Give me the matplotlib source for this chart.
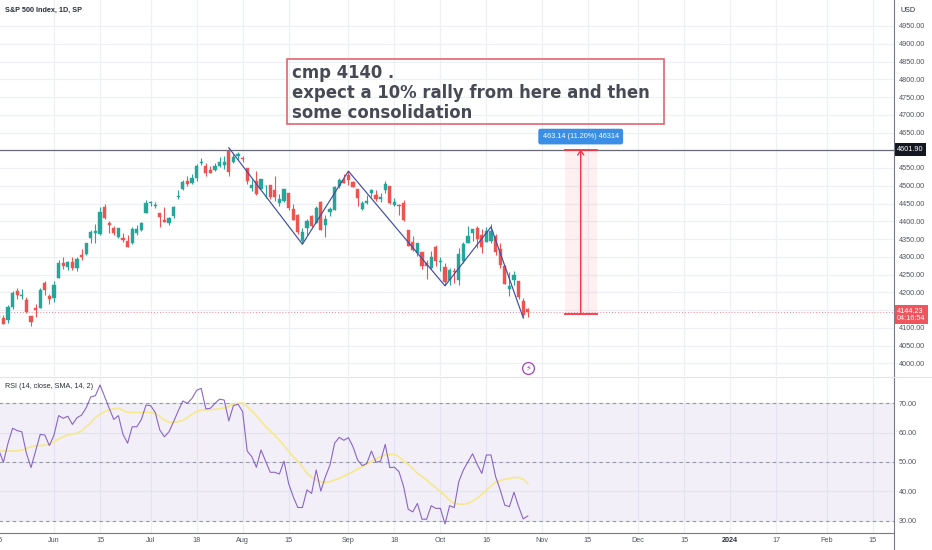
import matplotlib
matplotlib.use('Agg')
import matplotlib.pyplot as plt
import numpy as np
import pandas as pd
from matplotlib.patches import Rectangle, FancyArrowPatch
from matplotlib.lines import Line2D

# ---------------- data ----------------
first_bar = '2023-05-15'
last_bar = '2023-10-27'
holidays = ['2023-05-29', '2023-06-19', '2023-07-04', '2023-09-04', '2023-11-23',
            '2023-12-25', '2024-01-01', '2024-01-15', '2024-02-19']

opens = [
    4126.65, 4127.95, 4122.85, 4157.68, 4204.15, 4190.78, 4176.80, 4132.96, 4155.71, 4156.16, 4226.71, 4190.74,
    4183.03, 4241.01, 4282.99, 4271.34, 4285.47, 4268.69, 4304.88, 4308.32, 4352.61, 4366.29, 4365.33, 4440.95,
    4396.11, 4380.01, 4355.40, 4354.17, 4344.84, 4337.36, 4367.48, 4374.94, 4422.44,
    4450.48, 4442.04, 4422.62, 4404.54, 4394.23, 4415.55, 4467.69, 4491.50, 4514.61, 4508.86, 4521.78, 4563.87,
    4554.38, 4543.39, 4543.39, 4555.19, 4558.96, 4598.26, 4565.75, 4584.82,
    4578.83, 4550.93, 4494.27, 4513.96, 4491.58, 4498.03, 4501.57, 4487.16, 4450.69, 4458.13, 4478.87, 4433.79,
    4416.32, 4344.88, 4380.28, 4415.33, 4396.44, 4455.16, 4389.38, 4426.03, 4432.75, 4500.34, 4517.01,
    4530.60, 4510.06, 4490.35, 4434.55, 4451.30, 4480.98, 4473.27, 4462.65, 4487.78, 4497.98, 4445.13, 4445.41,
    4452.81, 4374.36, 4341.74, 4310.62, 4312.88, 4282.63, 4269.65, 4328.18,
    4284.52, 4269.75, 4233.83, 4259.31, 4234.79, 4289.02, 4339.75, 4366.59, 4380.94, 4360.49, 4342.37, 4345.23,
    4357.35, 4321.36, 4273.85, 4210.40, 4235.79, 4232.42, 4175.99, 4152.93]
highs = [
    4141.25, 4135.54, 4164.67, 4202.20, 4212.91, 4209.22, 4185.68, 4132.96, 4165.74, 4212.87, 4231.10, 4195.44,
    4232.43, 4290.67, 4299.28, 4288.33, 4299.19, 4298.01, 4322.62, 4340.13, 4375.37, 4391.82, 4439.20, 4448.47,
    4400.15, 4386.22, 4382.25, 4366.55, 4362.06, 4384.42, 4390.35, 4398.39, 4458.48,
    4456.46, 4454.06, 4422.62, 4440.39, 4412.60, 4443.64, 4488.34, 4517.38, 4527.76, 4532.85, 4562.30, 4578.43,
    4564.74, 4555.00, 4563.41, 4580.62, 4582.47, 4607.07, 4590.16, 4594.22,
    4584.62, 4550.93, 4519.49, 4540.34, 4519.84, 4503.31, 4502.44, 4527.37, 4476.23, 4490.33, 4478.87, 4449.95,
    4421.17, 4381.82, 4407.55, 4418.59, 4443.18, 4458.30, 4418.46, 4439.56, 4500.14, 4521.65, 4532.26,
    4541.25, 4514.29, 4490.35, 4457.81, 4473.53, 4490.77, 4487.11, 4479.39, 4511.99, 4497.98, 4466.36, 4449.85,
    4461.03, 4375.70, 4357.40, 4338.51, 4313.01, 4292.07, 4317.27, 4333.15,
    4300.58, 4281.15, 4268.50, 4267.13, 4324.10, 4341.73, 4385.46, 4378.64, 4385.85, 4377.10, 4383.33, 4393.57,
    4364.20, 4339.54, 4276.56, 4255.84, 4259.38, 4232.42, 4183.60, 4156.70]
lows = [
    4110.27, 4109.86, 4113.62, 4153.50, 4180.20, 4179.68, 4142.54, 4103.98, 4129.73, 4156.16, 4192.18, 4166.15,
    4171.64, 4241.01, 4266.82, 4263.09, 4263.96, 4261.07, 4291.70, 4304.37, 4337.66, 4337.85, 4362.60, 4407.44,
    4367.19, 4360.14, 4351.82, 4341.34, 4328.08, 4335.00, 4360.22, 4371.97, 4422.44,
    4442.29, 4436.61, 4385.05, 4397.40, 4389.92, 4408.46, 4463.23, 4489.36, 4499.56, 4504.90, 4514.59, 4557.48,
    4527.56, 4535.79, 4541.29, 4552.42, 4547.58, 4528.56, 4564.01, 4573.14,
    4567.53, 4505.75, 4485.54, 4474.55, 4491.15, 4464.39, 4461.33, 4457.92, 4443.98, 4453.44, 4432.19, 4403.55,
    4364.83, 4335.31, 4360.30, 4382.77, 4396.44, 4375.55, 4356.29, 4414.98, 4431.68, 4493.59, 4507.39,
    4501.35, 4496.01, 4442.38, 4430.46, 4448.38, 4467.89, 4456.83, 4453.52, 4478.69, 4447.21, 4442.11, 4416.61,
    4401.38, 4329.17, 4316.49, 4302.70, 4265.98, 4238.63, 4264.38, 4274.86,
    4260.21, 4220.48, 4220.48, 4225.91, 4219.55, 4283.79, 4339.64, 4345.34, 4325.43, 4311.97, 4342.37, 4337.54,
    4303.84, 4269.69, 4223.03, 4189.22, 4219.43, 4181.42, 4127.90, 4130.00]
closes = [
    4136.28, 4109.90, 4158.77, 4198.05, 4191.98, 4192.63, 4145.58, 4115.24, 4151.28, 4205.45, 4205.52, 4179.83,
    4221.02, 4282.37, 4273.79, 4283.85, 4267.52, 4293.93, 4298.86, 4338.93, 4369.01, 4372.59, 4425.84, 4409.59,
    4388.71, 4365.69, 4381.89, 4348.33, 4328.82, 4378.41, 4376.86, 4396.44, 4450.38,
    4455.59, 4446.82, 4411.59, 4398.95, 4409.53, 4439.26, 4472.16, 4510.04, 4505.42, 4522.79, 4554.98, 4565.72,
    4534.87, 4536.34, 4554.64, 4567.46, 4566.75, 4537.41, 4582.23, 4588.96,
    4576.73, 4513.39, 4501.89, 4478.03, 4518.44, 4499.38, 4467.71, 4468.83, 4464.05, 4489.72, 4437.86, 4404.33,
    4370.36, 4369.71, 4399.77, 4387.55, 4436.01, 4376.31, 4405.71, 4433.31, 4497.63, 4514.87, 4507.66,
    4515.77, 4496.83, 4465.48, 4451.14, 4457.49, 4487.46, 4461.90, 4467.44, 4505.10, 4450.32, 4453.53, 4443.95,
    4402.20, 4330.00, 4320.06, 4337.44, 4273.53, 4274.51, 4299.70, 4288.05,
    4288.39, 4229.45, 4263.75, 4258.19, 4308.50, 4335.66, 4358.24, 4376.95, 4349.61, 4327.78, 4373.63, 4373.20,
    4314.60, 4278.00, 4224.16, 4217.04, 4247.68, 4186.77, 4137.23, 4144.23]

rsi = [
    54.1, 49.9, 56.4, 61.5, 60.7, 60.3, 53.0, 48.1, 53.75, 59.4, 59.2, 55.6,
    59.2, 65.8, 64.9, 65.6, 62.8, 65.1, 66.0, 68.5, 72.2, 72.6, 76.25, 72.3, 68.3, 64.5, 65.8, 59.4, 56.4,
    62.0, 62.0, 64.5, 69.4,
    69.2, 66.9, 60.9, 58.6, 60.3, 63.75, 67.4, 70.8, 70.0, 71.7, 74.4, 75.1, 68.1, 68.3, 70.0, 71.4, 71.1,
    64.0, 69.2, 69.7,
    67.2, 53.75, 51.8, 48.2, 54.1, 50.3, 46.5, 46.5, 45.9,
    50.3, 42.7, 38.2, 34.5, 34.5, 40.5, 39.3, 47.3, 40.1, 45.0, 49.0, 56.4, 58.4, 57.4, 58.3, 55.2, 50.7,
    48.75, 49.5, 53.75, 49.9, 50.3, 56.0, 48.1, 48.2, 46.7, 41.6, 33.9, 33.0, 35.9, 30.5, 30.5, 35.1, 34.2,
    34.2, 28.9, 35.1, 34.5, 43.3, 47.3, 50.1, 52.8, 49.2, 46.1, 52.4, 52.4, 45.0, 40.5, 35.3, 34.8, 39.7,
    34.8, 30.6, 31.6]
rsi_sma = [
    53.75, 53.75, 53.75, 53.75, 53.75, 54.0, 54.7, 55.1, 55.5, 55.6, 55.8, 56.0,
    56.9, 57.8, 58.6, 59.2, 59.5, 59.8, 60.6, 62.0, 63.4, 65.1, 66.25, 67.2, 67.8, 68.1, 68.3, 67.6, 66.9,
    66.9, 66.9, 66.9, 66.9,
    66.9, 66.6, 65.5, 64.3, 63.5, 63.5, 63.75, 64.2, 65.1, 66.25, 67.2, 67.6, 67.8, 67.8, 68.0, 68.1, 68.4,
    68.9, 69.7, 70.0,
    70.1, 68.9, 67.4, 65.8, 64.0, 62.0, 60.6, 59.0, 57.4,
    55.6, 53.75, 51.8, 50.3, 48.4, 46.1, 44.9, 43.9, 43.3, 43.0, 43.3, 43.9, 44.4, 45.2, 45.9, 46.7, 47.6,
    48.4, 49.2, 50.1, 51.0, 51.8, 52.4, 52.6, 52.6, 51.8, 50.3, 49.2, 47.8, 46.1, 45.0, 43.9, 42.5, 41.3,
    39.9, 38.5, 37.0, 35.9, 35.7, 35.6, 35.9, 36.7, 37.6, 39.0, 40.5, 41.8, 43.1, 43.75, 44.1, 44.4, 44.7,
    44.7, 44.1, 42.7]

tick_dates = ['2023-05-15', '2023-06-01', '2023-06-15', '2023-07-03', '2023-07-18', '2023-08-01',
              '2023-08-15', '2023-09-01', '2023-09-18', '2023-10-02', '2023-10-16', '2023-11-01',
              '2023-11-15', '2023-12-01', '2023-12-15', '2024-01-02', '2024-01-17', '2024-02-01',
              '2024-02-15']
tick_labels = ['15', 'Jun', '15', 'Jul', '18', 'Aug', '15', 'Sep', '18', 'Oct', '16', 'Nov', '15',
               'Dec', '15', '2024', '17', 'Feb', '15']
price_ticks = list(range(4000, 4951, 50))
hidden_price_ticks = [4150, 4600]   # covered by the price tags in the original
rsi_ticks = [30, 40, 50, 60, 70]

zigzag_dates = ['2023-07-27', '2023-08-18', '2023-09-01', '2023-10-03', '2023-10-17', '2023-10-26']
zigzag_prices = [4607.07, 4335.31, 4541.25, 4218.0, 4384.0, 4128.0]

hline_price = 4601.90
last_price = 4144.23
countdown = '04:16:54'
measure_dates = ['2023-11-08', '2023-11-17']
measure_low, measure_high = 4138.76, 4601.90
measure_label = '463.14 (11.20%) 46314'
note_text = 'cmp 4140 .\nexpect a 10% rally from here and then\nsome consolidation'

# ---------------- calendar / positions ----------------
cal = pd.bdate_range('2023-05-15', '2024-03-08').difference(pd.to_datetime(holidays))
def pos(d):
    return cal.get_loc(pd.Timestamp(d))

bars = cal[(cal >= pd.Timestamp(first_bar)) & (cal <= pd.Timestamp(last_bar))]
x = np.array([pos(d) for d in bars], dtype=float)
o = np.array(opens); h = np.array(highs); l = np.array(lows); c = np.array(closes)

# ---------------- figure ----------------
W, H = 932, 550
PX = 4.6  # pixel per bar
fig = plt.figure(figsize=(W / 100, H / 100), dpi=100)
fig.patch.set_facecolor('white')
plt.rcParams['font.family'] = ['Liberation Sans', 'DejaVu Sans']

left = -3
ax = fig.add_axes([left / W, (H - 376) / H, (894 - left) / W, 376 / H])
axr = fig.add_axes([left / W, (H - 533) / H, (894 - left) / W, (533 - 377) / H], sharex=ax)

x0 = 0.26 + left / PX
x1 = 0.26 + 894 / PX
ax.set_xlim(x0, x1)

sc = 50 / 17.75
ax.set_ylim(4950 - 350 * sc, 4950 + 26 * sc)
axr.set_ylim(30 - (533 - 520.7) / 2.935, 70 + (403.3 - 377) / 2.935)

grid_c = '#eef0f5'
lab_c = '#50535e'
for a in (ax, axr):
    for s in a.spines.values():
        s.set_visible(False)
    a.set_facecolor('white')
    a.grid(True, color=grid_c, lw=0.9, zorder=0)
    a.set_axisbelow(True)
    a.yaxis.tick_right()
    a.tick_params(axis='both', length=0, labelsize=5.2, labelcolor=lab_c)
    a.tick_params(axis='y', pad=3.3)

ax.set_yticks(price_ticks)
ax.set_yticklabels(['' if v in hidden_price_ticks else '%.2f' % v for v in price_ticks])
axr.set_yticks(rsi_ticks)
axr.set_yticklabels(['%.2f' % v for v in rsi_ticks])
tick_x = [pos(d) for d in tick_dates]
axr.set_xticks(tick_x)
axr.set_xticklabels(tick_labels)
axr.tick_params(axis='x', pad=3.2)
ax.tick_params(labelbottom=False)
for t in axr.get_xticklabels():
    if t.get_text() == '2024':
        t.set_fontweight('bold')
        t.set_color('#2a2e39')

# ---------------- price pane ----------------
up_c, dn_c = '#26a69a', '#ef5350'
cols = np.where(c >= o, up_c, dn_c)
ax.vlines(x, l, h, colors=cols, lw=0.8, zorder=3)
body_b = np.minimum(o, c)
body_h = np.maximum(np.abs(c - o), 1.4)
ax.bar(x, body_h, bottom=body_b, width=0.7, color=cols, edgecolor=cols, lw=0.3, zorder=3)

ax.axhline(hline_price, color='#6a6d78', lw=0.9, zorder=2)
ax.axhline(last_price, color='#f23645', lw=0.7, ls=(0, (1, 2)), alpha=0.6, zorder=2)

zx = [pos(d) for d in zigzag_dates]
ax.plot(zx, zigzag_prices, color='#3f4ea6', lw=0.85, zorder=4)

# measure tool
mx0, mx1 = pos(measure_dates[0]), pos(measure_dates[1])
ax.add_patch(Rectangle((mx0, measure_low), mx1 - mx0, measure_high - measure_low,
                       fc='#f23645', alpha=0.07, ec='none', zorder=1))
ax.plot([mx0, mx1], [measure_high] * 2, color='#f23645', lw=1.3, zorder=4)
ax.plot([mx0, mx1], [measure_low] * 2, color='#f23645', lw=1.3, zorder=4)
mxm = (mx0 + mx1) / 2
ax.add_patch(FancyArrowPatch((mxm, measure_low), (mxm, measure_high), arrowstyle='->,head_width=2.2,head_length=3',
                             color='#f23645', lw=1.0, zorder=4, shrinkA=0, shrinkB=0))
ax.text(mxm, measure_high + 13 * sc, measure_label, ha='center', va='center', fontsize=5.2, color='white',
        bbox=dict(boxstyle='round,pad=0.6,rounding_size=0.3', fc='#3a8ee6', ec='none'), zorder=6)

# note box
nx0 = pos('2023-08-14') + 0.7
nx1 = pos('2023-12-08') + 0.6
ny_top = 4950 - (59 - 26) * sc
ny_bot = 4950 - (124 - 26) * sc
ny_mid = 4950 - (93 - 26) * sc
ax.add_patch(Rectangle((nx0, ny_bot), nx1 - nx0, ny_top - ny_bot, fc='none', ec='#e26570', lw=1.2, zorder=5))
ax.annotate(note_text, xy=(nx0, ny_mid), xytext=(4.5, 0), textcoords='offset pixels',
            ha='left', va='center', fontsize=11.9, fontweight='bold', color='#474a55',
            linespacing=1.15, zorder=6, family=['DejaVu Sans'])

# lightning icon
lx = pos('2023-10-27')
ly = 4950 - (368 - 26) * sc
ax.plot([lx], [ly], marker='o', ms=8.5, mfc='white', mec='#a33fc4', mew=0.9, zorder=6)
ax.text(lx, ly, '\u26a1', ha='center', va='center', fontsize=6, color='#a33fc4', zorder=7,
        family=['DejaVu Sans'])

# price tags on the axis
ax.annotate('%.2f' % hline_price, xy=(1, hline_price), xycoords=('axes fraction', 'data'),
            xytext=(2.5, 0), textcoords='offset pixels', ha='left', va='center', fontsize=5.2, color='white',
            bbox=dict(boxstyle='square,pad=0.4', fc='#131722', ec='none'), zorder=10, annotation_clip=False)
ax.annotate('%.2f\n%s' % (last_price, countdown), xy=(1, last_price), xycoords=('axes fraction', 'data'),
            xytext=(2.5, -2.5), textcoords='offset pixels', ha='left', va='center', fontsize=5.2, color='white',
            linespacing=1.0,
            bbox=dict(boxstyle='square,pad=0.35', fc='#f0545c', ec='none'), zorder=10, annotation_clip=False)

# ---------------- RSI pane ----------------
axr.axhspan(30, 70, color='#7e57c2', alpha=0.09, lw=0, zorder=0.6)
for lvl in (70, 50, 30):
    axr.axhline(lvl, color='#9598a1', lw=0.8, ls=(0, (3, 3)), zorder=1)
axr.plot(x, rsi_sma, color='#f5e98c', lw=1.3, alpha=0.95, zorder=3)
axr.plot(x, rsi, color='#7e57c2', lw=0.8, alpha=0.9, zorder=4)

# ---------------- frame lines and headers ----------------
fig.add_artist(Line2D([894 / W, 894 / W], [0, 1], color='#787b86', lw=0.8))
fig.add_artist(Line2D([0, 894 / W], [1 - 533 / H] * 2, color='#787b86', lw=0.8))
fig.add_artist(Line2D([0, 1], [1 - 376.5 / H] * 2, color='#e0e3eb', lw=0.8))

fig.text(5 / W, 1 - 10 / H, 'S&P 500 Index, 1D, SP', ha='left', va='center', fontsize=5.2,
         fontweight='bold', color='#2a2e39')
fig.text(908 / W, 1 - 10 / H, 'USD', ha='center', va='center', fontsize=5.2, color='#2a2e39')
fig.text(5 / W, 1 - 386 / H, 'RSI (14, close, SMA, 14, 2)', ha='left', va='center', fontsize=5.2,
         color='#2a2e39')

fig.savefig('out.png', dpi=100)
